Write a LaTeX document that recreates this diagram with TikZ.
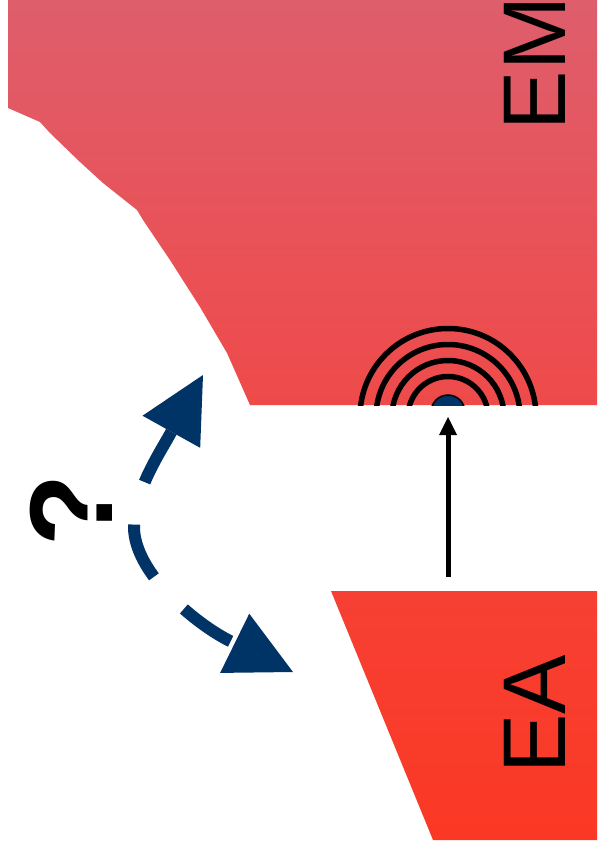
\documentclass[tikz,border=0pt]{standalone}
\usepackage{fontspec}
\setmainfont{Liberation Sans}
\usetikzlibrary{arrows.meta}
\definecolor{emtop}{RGB}{222,94,108}
\definecolor{embot}{RGB}{239,74,74}
\definecolor{eatop}{RGB}{246,64,52}
\definecolor{eabot}{RGB}{251,56,36}
\definecolor{navy}{RGB}{0,51,102}
\begin{document}
\begin{tikzpicture}[x=1pt, y=-1pt,
  lbl/.style={rotate=90, inner sep=0pt, font=\fontsize{89}{89}\selectfont},
  qmark/.style={rotate=90, inner sep=0pt, font=\fontsize{118}{118}\selectfont\bfseries},
  ring/.style={line width=5.5pt},
  dot/.style={circle, fill=navy, draw=black, line width=1.5pt, minimum size=34pt, inner sep=0pt},
  qarrow/.style={{Triangle[length=65pt,width=66pt,line width=0pt]}-{Triangle[length=65pt,width=66pt,line width=0pt]}, draw=navy, line width=12pt, dash pattern=on 57pt off 44pt},
  kick/.style={-{Triangle[length=18pt,width=18pt,line width=0pt]}, line width=5pt}
]
  \useasboundingbox (0,0) rectangle (597,851);
  \fill[white] (0,0) rectangle (597,851);

  % EM region
  \path[top color=emtop, bottom color=embot] (8,0) -- (597,0) -- (597,405) -- (250,405)
    -- (227,353) -- (200,307) -- (170,260) -- (143,220) -- (137,210) -- (103,183)
    -- (80,162) -- (50,133) -- (40,122) -- (8,108) -- cycle;

  % EA region
  \path[top color=eatop, bottom color=eabot] (331,591) -- (597,591) -- (597,840) -- (433,840) -- cycle;

  % emission rings
  \begin{scope}
    \clip (300,300) rectangle (597,405);
    \foreach \r in {40,56,72,88}
      \draw[ring] (448,416.5) circle[radius=\r];
    \node[dot] (emitter) at (448,412) {};
  \end{scope}

  % excitation
  \coordinate (src) at (448,577);
  \coordinate (hit) at (448,417);
  \draw[kick] (src) -- (hit);

  % which way?
  \coordinate (up) at (203,375);
  \coordinate (down) at (293,672);
  \draw[qarrow] (up) -- (169,436) .. controls (159,454) and (134,492) .. (134,527)
    .. controls (134,572) and (194,623) .. (230,641) -- (down);

  % labels
  \node[lbl] (em) at (535,63.5) {EM};
  \node[lbl] (ea) at (534.5,714) {EA};
  \node[qmark] (q) at (71,510) {?};
\end{tikzpicture}
\end{document}
